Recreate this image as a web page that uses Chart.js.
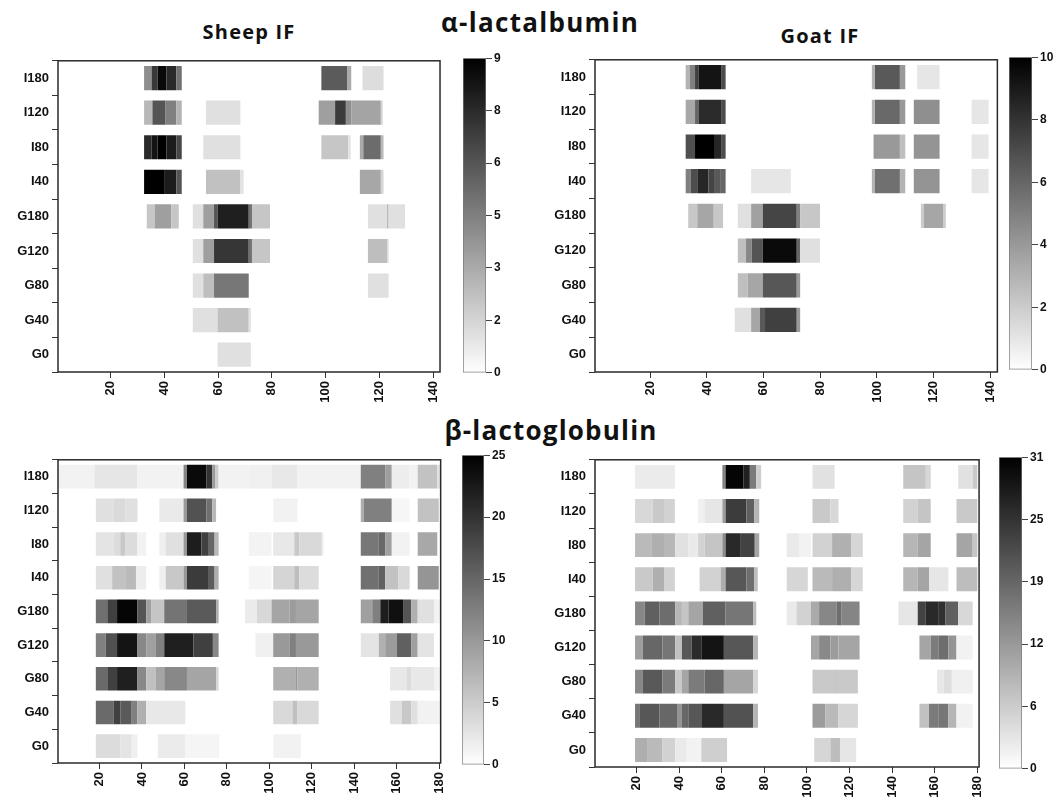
<!DOCTYPE html>
<html>
<head>
<meta charset="utf-8">
<script src="https://cdn.jsdelivr.net/npm/chart.js@4/dist/chart.umd.min.js"></script>
<style>
  body { margin: 0; background: #fff; width: 1061px; height: 799px; overflow: hidden; position: relative; font-family: "Liberation Sans", Arial, sans-serif; }
  canvas { position: absolute; }
  .title { position: absolute; text-align: center; font-family: "Open Sans", "Noto Sans", sans-serif; font-weight: 700; color: #111; white-space: nowrap; }
</style>
</head>
<body>
<div class="title" style="left:340px;width:400px;top:4px;font-size:26px;line-height:36px;letter-spacing:1.3px;">α-lactalbumin</div>
<div class="title" style="left:149px;width:200px;top:18px;font-size:20px;line-height:28px;letter-spacing:1.2px;">Sheep IF</div>
<div class="title" style="left:720px;width:200px;top:22px;font-size:20px;line-height:28px;letter-spacing:1.2px;">Goat IF</div>
<div class="title" style="left:351px;width:400px;top:412px;font-size:26px;line-height:36px;letter-spacing:1.2px;">β-lactoglobulin</div>

<canvas id="sheepAlphaChart" width="452" height="364" style="left:0px;top:50px"></canvas>
<canvas id="goatAlphaChart" width="472" height="365" style="left:537px;top:49px"></canvas>
<canvas id="sheepBetaChart" width="458" height="356" style="left:0px;top:449px"></canvas>
<canvas id="goatBetaChart" width="459" height="360" style="left:537px;top:449px"></canvas>

<canvas id="sheepAlphaBar" width="57" height="333" style="left:461px;top:49px"></canvas>
<canvas id="goatAlphaBar" width="57" height="331" style="left:1007px;top:48px"></canvas>
<canvas id="sheepBetaBar" width="56" height="328" style="left:460px;top:446px"></canvas>
<canvas id="goatBetaBar" width="57" height="330" style="left:997px;top:448px"></canvas>

<script>
// Rows (top to bottom) and axis ticks
const rows = ["I180", "I120", "I80", "I40", "G180", "G120", "G80", "G40", "G0"];
const alphaTicks = [20, 40, 60, 80, 100, 120, 140];
const betaTicks = [20, 40, 60, 80, 100, 120, 140, 160, 180];

// Colour-bar tick labels (evenly spaced from 0 to max)
const sheepAlphaScale = ["0", "2", "3", "5", "6", "8", "9"];
const goatAlphaScale = ["0", "2", "4", "6", "8", "10"];
const sheepBetaScale = ["0", "5", "10", "15", "20", "25"];
const goatBetaScale = ["0", "6", "12", "19", "25", "31"];

// Segments: [row, from residue, to residue, intensity]
const sheepAlpha = [
  ["I180", 32.5, 35.3, 4], ["I180", 35.3, 37.5, 7], ["I180", 37.5, 40.8, 8.7], ["I180", 40.8, 44.5, 7.5], ["I180", 44.5, 46.5, 5],
  ["I180", 98.4, 108.1, 5.8], ["I180", 108.1, 109.5, 3], ["I180", 113.7, 121.5, 1.2],
  ["I120", 32.5, 35.6, 2.5], ["I120", 35.6, 40.5, 6], ["I120", 40.5, 44.5, 4.5], ["I120", 44.5, 46.5, 2.7], ["I120", 55.5, 68.3, 1.1],
  ["I120", 97.4, 103.5, 3.4], ["I120", 103.5, 107.5, 6.9], ["I120", 107.5, 109.5, 4], ["I120", 109.5, 120.5, 3.2], ["I120", 120.5, 121.2, 1.5],
  ["I80", 32.5, 35.3, 7.5], ["I80", 35.3, 37.5, 8.3], ["I80", 37.5, 40.8, 9], ["I80", 40.8, 44.5, 8], ["I80", 44.5, 46.5, 6.5],
  ["I80", 54.5, 68.3, 1.1], ["I80", 98.4, 108.3, 2], ["I80", 108.3, 109.3, 1], ["I80", 112.7, 114, 3], ["I80", 114, 120.5, 5.2], ["I80", 120.5, 121.5, 2.5],
  ["I40", 32.5, 40.2, 9], ["I40", 40.2, 44.5, 8], ["I40", 44.5, 46.5, 6], ["I40", 55.5, 68.3, 2.2], ["I40", 68.3, 69.5, 1],
  ["I40", 112.7, 120.5, 3.1], ["I40", 120.5, 121.5, 1.5],
  ["G180", 33.5, 36.5, 2], ["G180", 36.5, 42.6, 3.4], ["G180", 42.6, 45.4, 2], ["G180", 50.6, 54.5, 1.1], ["G180", 54.5, 58.5, 3.4],
  ["G180", 58.5, 59.8, 6], ["G180", 59.8, 71.4, 7.9], ["G180", 71.4, 72.6, 5], ["G180", 72.6, 79.3, 2],
  ["G180", 115.7, 122.8, 1.1], ["G180", 122.8, 123.4, 2.5], ["G180", 123.4, 129.5, 1.1],
  ["G120", 50.6, 54.5, 1.1], ["G120", 54.5, 58.5, 3.4], ["G120", 58.5, 71.4, 7.1], ["G120", 71.4, 72.6, 5], ["G120", 72.6, 79.3, 2],
  ["G120", 115.7, 122.8, 2.3], ["G120", 122.8, 123.4, 1.2],
  ["G80", 50.6, 54.5, 1.1], ["G80", 54.5, 58.5, 2.3], ["G80", 58.5, 71.4, 4.8], ["G80", 115.7, 123.4, 1.1],
  ["G40", 50.6, 59.8, 1.1], ["G40", 59.8, 71.4, 2.2], ["G40", 71.4, 72.2, 1],
  ["G0", 59.8, 72.2, 1.1],
];

const goatAlpha = [
  ["I180", 32.5, 34, 3], ["I180", 34, 35.8, 5], ["I180", 35.8, 37, 7.5], ["I180", 37, 45, 9.2], ["I180", 45, 46.6, 7],
  ["I180", 98.2, 99.3, 3], ["I180", 99.3, 108.1, 6.5], ["I180", 108.1, 110, 4], ["I180", 114.2, 122.1, 1],
  ["I120", 32.5, 35.8, 3.4], ["I120", 35.8, 37, 6], ["I120", 37, 45, 8.3], ["I120", 45, 46.6, 7],
  ["I120", 98.2, 99.3, 3], ["I120", 99.3, 108.1, 5.9], ["I120", 108.1, 110, 4], ["I120", 113, 122.1, 4.4], ["I120", 133.4, 139.4, 1],
  ["I80", 32.5, 35.8, 6.9], ["I80", 35.8, 42.8, 10], ["I80", 42.8, 45, 8.5], ["I80", 45, 46.6, 7],
  ["I80", 98.8, 108.1, 4], ["I80", 108.1, 110, 2.5], ["I80", 113, 122.1, 4.2], ["I80", 133.4, 139.4, 1],
  ["I40", 32.5, 34.2, 5], ["I40", 34.2, 36.6, 7], ["I40", 36.6, 40.5, 8.5], ["I40", 40.5, 42.8, 7.3], ["I40", 42.8, 44.9, 6.5], ["I40", 44.9, 46.6, 6],
  ["I40", 55.6, 69.6, 1], ["I40", 98.2, 99.3, 3], ["I40", 99.3, 108.1, 5.6], ["I40", 108.1, 110, 3], ["I40", 113, 122.1, 4.2], ["I40", 133.4, 139.4, 1],
  ["G180", 33.4, 36.6, 2.2], ["G180", 36.6, 42.4, 3.5], ["G180", 42.4, 45.7, 2.2], ["G180", 50.9, 55.6, 1.2], ["G180", 55.6, 59.7, 3.7],
  ["G180", 59.7, 71.7, 7.3], ["G180", 71.7, 72.9, 5], ["G180", 72.9, 79.9, 2.2], ["G180", 115.5, 116.5, 2], ["G180", 116.5, 123.5, 3.5], ["G180", 123.5, 124.3, 2],
  ["G120", 50.9, 53.8, 2.5], ["G120", 53.8, 55.8, 4.7], ["G120", 55.8, 59.7, 6.7], ["G120", 59.7, 71.7, 9.6], ["G120", 71.7, 72.9, 6], ["G120", 72.9, 79.9, 1.2],
  ["G80", 50.9, 54.4, 2.5], ["G80", 54.4, 59.7, 3.5], ["G80", 59.7, 71.7, 6.6], ["G80", 71.7, 72.9, 4],
  ["G40", 49.8, 55.6, 1.2], ["G40", 55.6, 58.7, 3.5], ["G40", 58.7, 60.5, 6.5], ["G40", 60.5, 71.7, 7.5], ["G40", 71.7, 72.9, 4],
];

const sheepBeta = [
  ["I180", 0.5, 17.6, 1.3], ["I180", 17.6, 37.9, 2.5], ["I180", 37.9, 59.6, 1.3], ["I180", 59.6, 61.2, 12], ["I180", 61.2, 70.3, 24],
  ["I180", 70.3, 73.1, 20], ["I180", 73.1, 74.6, 10], ["I180", 74.6, 76.1, 5], ["I180", 76.1, 90.3, 1.3], ["I180", 90.3, 101, 1.5],
  ["I180", 101, 113.2, 2.3], ["I180", 113.2, 143, 1.3], ["I180", 143, 154.5, 12.5], ["I180", 154.5, 157.6, 9.5], ["I180", 157.6, 166, 1.8],
  ["I180", 166, 169.8, 1.3], ["I180", 169.8, 179, 6], ["I180", 179, 180.5, 3],
  ["I120", 18.3, 26.8, 3], ["I120", 26.8, 32.1, 3.6], ["I120", 32.1, 37.9, 3], ["I120", 48.2, 59.6, 2.1], ["I120", 59.6, 61.2, 10],
  ["I120", 61.2, 70.3, 17], ["I120", 70.3, 73.1, 14], ["I120", 73.1, 74.9, 7], ["I120", 101.8, 113.2, 1.3],
  ["I120", 143, 144.5, 8], ["I120", 144.5, 157.6, 12.5], ["I120", 157.6, 166, 0.9], ["I120", 169.8, 179.7, 6],
  ["I80", 18.3, 26.8, 2.6], ["I80", 26.8, 29.8, 3.4], ["I80", 29.8, 32.1, 5.4], ["I80", 32.1, 37.9, 3.4], ["I80", 37.9, 42, 1.3],
  ["I80", 48.2, 51.2, 1.6], ["I80", 51.2, 59.6, 3], ["I80", 59.6, 61.2, 10], ["I80", 61.2, 68, 22.2], ["I80", 68, 71.1, 18.7],
  ["I80", 71.1, 74.2, 15], ["I80", 74.2, 76.1, 7], ["I80", 90.3, 101, 1.2], ["I80", 101.8, 111.7, 2.3], ["I80", 111.7, 114, 5.4],
  ["I80", 114, 124.7, 3.7], ["I80", 124.7, 125.5, 1.5], ["I80", 143, 151.5, 13.3], ["I80", 151.5, 154.5, 14.8], ["I80", 154.5, 157.6, 9.3],
  ["I80", 157.6, 166, 1.3], ["I80", 169.8, 179, 8.5],
  ["I40", 18.3, 26, 3], ["I40", 26, 32.1, 6], ["I40", 32.1, 37.2, 6.8], ["I40", 37.2, 42, 1.8], ["I40", 48.2, 51.2, 1.6],
  ["I40", 51.2, 59.6, 5.4], ["I40", 59.6, 61.2, 10], ["I40", 61.2, 71.1, 19.2], ["I40", 71.1, 74.2, 16], ["I40", 74.2, 76.1, 8],
  ["I40", 90.3, 101, 1], ["I40", 101.8, 111.7, 4.1], ["I40", 111.7, 114, 6.4], ["I40", 114, 123.2, 3.4], ["I40", 143, 151.5, 14],
  ["I40", 151.5, 154.5, 15.5], ["I40", 154.5, 160.6, 6], ["I40", 160.6, 166, 3.7], ["I40", 169.8, 179.7, 10.4],
  ["G180", 18.3, 23.7, 14], ["G180", 23.7, 28.3, 18.7], ["G180", 28.3, 37.9, 24.5], ["G180", 37.9, 42, 16.7], ["G180", 42, 44.3, 9.3],
  ["G180", 44.3, 50.5, 5.7], ["G180", 50.5, 61.2, 13.6], ["G180", 61.2, 74.9, 16.2], ["G180", 74.9, 76.1, 8], ["G180", 88.5, 94.1, 2],
  ["G180", 94.1, 101, 3.8], ["G180", 101, 109.4, 8.8], ["G180", 109.4, 112.5, 9.8], ["G180", 112.5, 123.2, 8.8], ["G180", 143, 148.4, 9.3],
  ["G180", 148.4, 152.2, 12.5], ["G180", 152.2, 156, 22.2], ["G180", 156, 162.9, 23.4], ["G180", 162.9, 166.7, 16.7], ["G180", 166.7, 169.8, 7.7],
  ["G180", 169.8, 177.5, 3], ["G180", 177.5, 180.5, 1.3],
  ["G120", 18.3, 22.9, 12.5], ["G120", 22.9, 28.3, 17.2], ["G120", 28.3, 37.9, 23], ["G120", 37.9, 42, 11.7], ["G120", 42, 46.6, 9.3],
  ["G120", 46.6, 50.5, 12.5], ["G120", 50.5, 64.2, 22], ["G120", 64.2, 73.4, 18.7], ["G120", 73.4, 76.1, 11.7], ["G120", 93.4, 101.8, 1.5],
  ["G120", 101.8, 109.4, 10], ["G120", 109.4, 112.5, 12.5], ["G120", 112.5, 123.2, 10], ["G120", 143, 151.5, 2.6], ["G120", 151.5, 154.5, 7.7],
  ["G120", 154.5, 159.9, 9.8], ["G120", 159.9, 166.7, 15.6], ["G120", 166.7, 169.8, 9.3], ["G120", 169.8, 177.5, 2.6],
  ["G80", 18.3, 23.7, 14.6], ["G80", 23.7, 28.3, 18.7], ["G80", 28.3, 37.9, 22], ["G80", 37.9, 42, 11.7], ["G80", 42, 46.6, 6.2],
  ["G80", 46.6, 50.5, 8.8], ["G80", 50.5, 61.2, 11.7], ["G80", 61.2, 74.9, 8.8], ["G80", 74.9, 76.1, 4], ["G80", 101.8, 112.5, 7.7],
  ["G80", 112.5, 113.2, 10], ["G80", 113.2, 123.2, 7.7], ["G80", 156.8, 164.5, 2.3], ["G80", 164.5, 166.7, 3.4], ["G80", 166.7, 177.5, 2.3],
  ["G80", 177.5, 180.5, 1.3],
  ["G40", 18.3, 26.8, 14.6], ["G40", 26.8, 29.8, 18.7], ["G40", 29.8, 35.2, 16.2], ["G40", 35.2, 37.9, 12.5], ["G40", 37.9, 42, 7.7],
  ["G40", 42, 60.4, 2.3], ["G40", 101.8, 110.9, 3.7], ["G40", 110.9, 113.2, 6.2], ["G40", 113.2, 123.2, 3.7], ["G40", 156.8, 162.2, 3],
  ["G40", 162.2, 166.7, 5.4], ["G40", 166.7, 169.8, 3], ["G40", 169.8, 180.5, 1.3],
  ["G0", 18.3, 29.8, 3.4], ["G0", 29.8, 35.2, 2.6], ["G0", 35.2, 37.9, 1.5], ["G0", 47.5, 60.4, 2], ["G0", 60.4, 76.4, 1],
  ["G0", 101.8, 114.8, 1.3],
];

const goatBeta = [
  ["I180", 19.3, 38, 2.4], ["I180", 60.3, 61.8, 15], ["I180", 61.8, 70.1, 30.4], ["I180", 70.1, 73.2, 27], ["I180", 73.2, 76.2, 16],
  ["I180", 76.2, 78.5, 6], ["I180", 102.6, 113, 3.6], ["I180", 145.2, 155.8, 7], ["I180", 155.8, 158.1, 5], ["I180", 171, 177.8, 3.6],
  ["I180", 177.8, 180, 6.6],
  ["I120", 19.3, 27.6, 4.7], ["I120", 27.6, 32.9, 6.6], ["I120", 32.9, 38, 5.5], ["I120", 48.9, 51.9, 1.8], ["I120", 51.9, 60.3, 3.1],
  ["I120", 60.3, 61.8, 12], ["I120", 61.8, 71.6, 23.7], ["I120", 71.6, 75.3, 19.3], ["I120", 75.3, 77.6, 9], ["I120", 102.6, 111, 6.6],
  ["I120", 111, 114.8, 4.7], ["I120", 145.2, 152, 5.5], ["I120", 152, 158.1, 7], ["I120", 170.2, 180, 6.6],
  ["I80", 19.3, 26.9, 8.4], ["I80", 26.9, 32.9, 9.7], ["I80", 32.9, 38.2, 8.8], ["I80", 38.2, 44.3, 3.6], ["I80", 44.3, 48.9, 2.5],
  ["I80", 48.9, 51.9, 5.5], ["I80", 51.9, 60.3, 7], ["I80", 60.3, 61.8, 14], ["I80", 61.8, 68.6, 26], ["I80", 68.6, 75.5, 23],
  ["I80", 75.5, 77.6, 11], ["I80", 90.5, 96.6, 2.5], ["I80", 96.6, 101.9, 1.6], ["I80", 102.6, 111.8, 5.5], ["I80", 111.8, 120.9, 9.6],
  ["I80", 120.9, 126.2, 5], ["I80", 145.2, 152, 8.9], ["I80", 152, 158.1, 10.9], ["I80", 170.2, 177.8, 10.9], ["I80", 177.8, 180, 7],
  ["I40", 19.3, 27.6, 6.6], ["I40", 27.6, 32.9, 9.7], ["I40", 32.9, 38, 5.5], ["I40", 49.6, 59.5, 5.5], ["I40", 59.5, 61.8, 10],
  ["I40", 61.8, 71.6, 20.4], ["I40", 71.6, 75.3, 17.6], ["I40", 75.3, 76.9, 8], ["I40", 90.5, 100.4, 5], ["I40", 102.6, 111.8, 8.4],
  ["I40", 111.8, 120.9, 9.7], ["I40", 120.9, 126.2, 5], ["I40", 145.2, 152, 8.9], ["I40", 152, 157.3, 10.9], ["I40", 157.3, 166.4, 3.1],
  ["I40", 170.2, 180, 8],
  ["G180", 19.3, 23.8, 14.6], ["G180", 23.8, 30.7, 19.3], ["G180", 30.7, 38.2, 17.8], ["G180", 38.2, 41.3, 8.9], ["G180", 41.3, 44.3, 7],
  ["G180", 44.3, 51.1, 10.9], ["G180", 51.1, 61.8, 19.3], ["G180", 61.8, 74.7, 16.6], ["G180", 74.7, 76.2, 8], ["G180", 90.5, 95.1, 2.5],
  ["G180", 95.1, 101.9, 5.5], ["G180", 101.9, 105.7, 10.3], ["G180", 105.7, 114, 14.6], ["G180", 114, 116.3, 17.6], ["G180", 116.3, 124.7, 14.8],
  ["G180", 142.9, 152, 3], ["G180", 152, 155.8, 23], ["G180", 155.8, 161.9, 26], ["G180", 161.9, 164.9, 25], ["G180", 164.9, 171, 19.3],
  ["G180", 171, 177.8, 4.7],
  ["G120", 19.3, 23, 11.8], ["G120", 23, 32.2, 18.5], ["G120", 32.2, 38.2, 16.6], ["G120", 38.2, 41.3, 7.5], ["G120", 41.3, 45.8, 20.4],
  ["G120", 45.8, 50.4, 25.8], ["G120", 50.4, 61, 28.6], ["G120", 61, 74.7, 20.4], ["G120", 74.7, 77, 9], ["G120", 101.9, 105.7, 11],
  ["G120", 105.7, 111, 14.3], ["G120", 111, 114.8, 12], ["G120", 114.8, 124.7, 11], ["G120", 152.8, 158.1, 11], ["G120", 158.1, 161.9, 15.9],
  ["G120", 161.9, 166.4, 17.6], ["G120", 166.4, 170.2, 13], ["G120", 170.2, 177.8, 1.6],
  ["G80", 19.3, 23, 14.6], ["G80", 23, 32.2, 20.2], ["G80", 32.2, 38.2, 16], ["G80", 38.2, 41.3, 6.6], ["G80", 41.3, 44.3, 10.9],
  ["G80", 44.3, 51.9, 16], ["G80", 51.9, 61, 18.5], ["G80", 61, 74.7, 11], ["G80", 74.7, 77, 5], ["G80", 102.6, 113.3, 6.6],
  ["G80", 113.3, 114, 8.9], ["G80", 114, 123.9, 6.6], ["G80", 161.1, 164.2, 2.8], ["G80", 164.2, 168, 4], ["G80", 168, 177.8, 1.8],
  ["G40", 19.3, 21.6, 16.6], ["G40", 21.6, 30.7, 20.4], ["G40", 30.7, 39, 18.5], ["G40", 39, 41.3, 13], ["G40", 41.3, 44.3, 18.5],
  ["G40", 44.3, 50.4, 20.4], ["G40", 50.4, 61, 26], ["G40", 61, 74.7, 21], ["G40", 74.7, 77, 9], ["G40", 102.6, 108.7, 12],
  ["G40", 108.7, 114.8, 8.5], ["G40", 114.8, 123.9, 5], ["G40", 152.8, 157.3, 7.5], ["G40", 157.3, 161.9, 16], ["G40", 161.9, 166.4, 16.6],
  ["G40", 166.4, 170.2, 9], ["G40", 170.2, 177.8, 1.6],
  ["G0", 19.3, 25.3, 9.8], ["G0", 25.3, 32.2, 8.4], ["G0", 32.2, 38.2, 5.5], ["G0", 38.2, 43.6, 2.5], ["G0", 43.6, 50.4, 1.6],
  ["G0", 50.4, 62.5, 5.8], ["G0", 103.4, 111, 5], ["G0", 111, 115.5, 8], ["G0", 115.5, 123.1, 3],
];

Chart.defaults.font.family = "'Liberation Sans', Arial, sans-serif";
Chart.defaults.font.weight = "bold";
Chart.defaults.color = "#111";
Chart.defaults.animation = false;

function gray(v, max) {
  const g = Math.round(255 * (1 - Math.min(v, max) / max));
  return `rgb(${g},${g},${g})`;
}

// box frame round the plot area
const framePlugin = {
  id: "frame",
  afterDraw(chart) {
    const a = chart.chartArea, ctx = chart.ctx;
    ctx.save();
    ctx.strokeStyle = "#2a2a2a";
    ctx.lineWidth = 1.5;
    ctx.strokeRect(a.left, a.top, a.right - a.left, a.bottom - a.top);
    ctx.restore();
  },
};

// ─── Heatmap panels ─────────────────────────────────────
function createHeatmap(id, segments, max, xMax, xTicks) {
  const data = segments.map((s) => ({ y: s[0], x: [s[1], s[2]], v: s[3] }));
  new Chart(document.getElementById(id), {
    type: "bar",
    data: {
      labels: rows,
      datasets: [{
        data,
        backgroundColor: (c) => gray(c.raw ? c.raw.v : 0, max),
        borderWidth: 0,
        barPercentage: 0.7,
        categoryPercentage: 1,
      }],
    },
    options: {
      indexAxis: "y",
      responsive: false,
      layout: { padding: { top: 6, right: 6, left: 0, bottom: 0 } },
      plugins: { legend: { display: false }, tooltip: { enabled: false } },
      scales: {
        x: {
          type: "linear", min: 0.5, max: xMax,
          afterBuildTicks: (s) => { s.ticks = xTicks.map((v) => ({ value: v })); },
          afterFit: (s) => { s.height = 42; },
          ticks: { minRotation: 90, maxRotation: 90, autoSkip: false, padding: 3, font: { size: 13, weight: "bold" } },
          grid: { drawOnChartArea: false, tickLength: 6, color: "#333" },
          border: { display: false },
        },
        y: {
          afterFit: (s) => { s.width = 58; },
          ticks: { padding: 3, font: { size: 13, weight: "bold" } },
          grid: { drawOnChartArea: false, tickLength: 6, color: "#333" },
          border: { display: false },
        },
      },
    },
    plugins: [framePlugin],
  });
}

// ─── Colour bars ────────────────────────────────────────
function createColorBar(id, labels, max) {
  new Chart(document.getElementById(id), {
    type: "bar",
    data: {
      labels: [""],
      datasets: [{
        data: [[0, max]],
        backgroundColor: (c) => {
          const a = c.chart.chartArea;
          if (!a) return "#888";
          const g = c.chart.ctx.createLinearGradient(0, a.bottom, 0, a.top);
          g.addColorStop(0, "#fff");
          g.addColorStop(1, "#000");
          return g;
        },
        borderColor: "#777",
        borderWidth: 1,
        borderSkipped: false,
        barPercentage: 1,
        categoryPercentage: 1,
      }],
    },
    options: {
      responsive: false,
      layout: { padding: { top: 8, bottom: 8, left: 2, right: 0 } },
      plugins: { legend: { display: false }, tooltip: { enabled: false } },
      scales: {
        x: { display: false },
        y: {
          position: "right", min: 0, max,
          afterBuildTicks: (s) => { s.ticks = labels.map((t, i) => ({ value: (i * max) / (labels.length - 1) })); },
          afterFit: (s) => { s.width = 32; },
          ticks: { padding: 2, font: { size: 12, weight: "bold" }, callback: (v, i) => labels[i] },
          grid: { drawOnChartArea: false, tickLength: 6, color: "#444" },
          border: { display: false },
        },
      },
    },
  });
}

createHeatmap("sheepAlphaChart", sheepAlpha, 9, 142.5, alphaTicks);
createHeatmap("goatAlphaChart", goatAlpha, 10, 142.5, alphaTicks);
createHeatmap("sheepBetaChart", sheepBeta, 25, 180.6, betaTicks);
createHeatmap("goatBetaChart", goatBeta, 31, 180.8, betaTicks);

createColorBar("sheepAlphaBar", sheepAlphaScale, 9);
createColorBar("goatAlphaBar", goatAlphaScale, 10);
createColorBar("sheepBetaBar", sheepBetaScale, 25);
createColorBar("goatBetaBar", goatBetaScale, 31);
</script>
</body>
</html>
